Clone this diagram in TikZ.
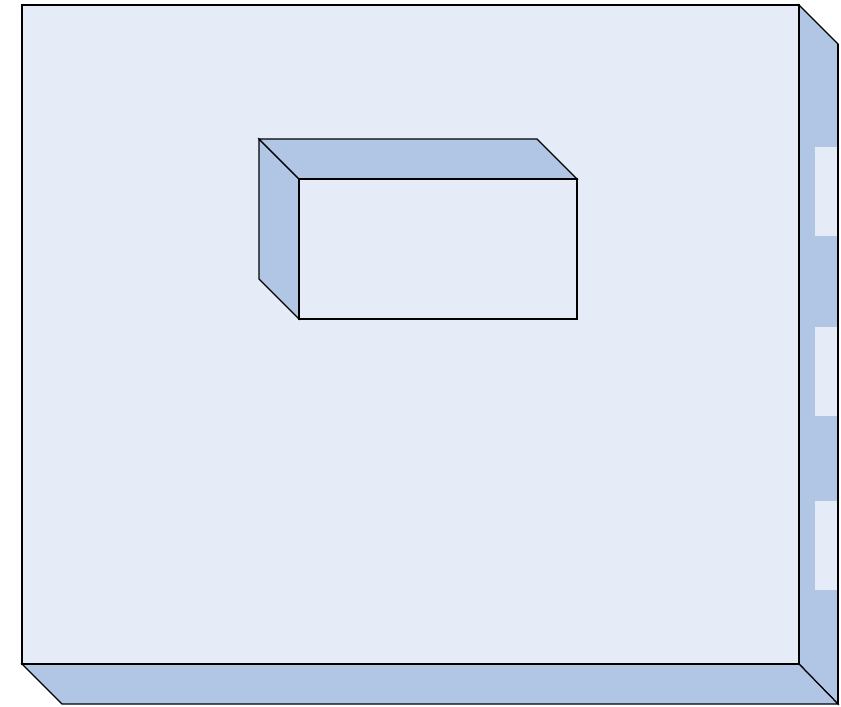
\documentclass[tikz,border=0pt]{standalone}
\usetikzlibrary{positioning}
\definecolor{faceblue}{RGB}{230,236,247}
\definecolor{sideblue}{RGB}{176,198,228}
\tikzset{
	face/.style={fill=faceblue,draw=black,line width=.7pt,line join=miter},
	side/.style={fill=sideblue,draw=black,line width=.7pt,line join=miter},
	slot/.style={fill=faceblue,draw=none}
}
\begin{document}
\begin{tikzpicture}[x=.02cm,y=-.02cm]
	\useasboundingbox (0,0) rectangle (841,706);
	
	\def\d{40} %chieu sau
	% khoi lon
	\coordinate (A) at (22,5);
	\coordinate (B) at (799,5);
	\coordinate (C) at (799,664);
	\coordinate (D) at (22,664);
	\draw[side] (B)--++(\d-1,\d-1)--(838,704)--(C)--cycle;
	\draw[side] (D)--(C)--(838,704)--(62,704)--cycle;
	\foreach \y in {147,327,501}\fill[slot] (815,\y) rectangle (838,\y+89);
	\draw[black,line width=.7pt] (838,44)--(838,704);
	\draw[face] (A) rectangle (C);
	
	% khoi nho
	\coordinate (P) at (299,179);
	\coordinate (Q) at (577,319);
	\draw[side] (P)--++(-\d,-\d)--++(0,140)--(299,319)--cycle;
	\draw[side] (P)--++(-\d,-\d)--(537,139)--(577,179)--cycle;
	\draw[face] (P) rectangle (Q);
	
\end{tikzpicture}
\end{document}
